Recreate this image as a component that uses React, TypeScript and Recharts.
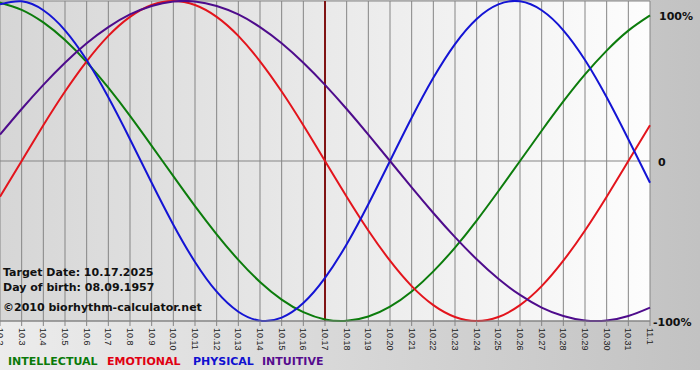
import React from 'react';
import { LineChart, Line, XAxis, YAxis, CartesianGrid, ReferenceLine } from 'recharts';

const dates = ['10.2','10.3','10.4','10.5','10.6','10.7','10.8','10.9','10.10','10.11','10.12','10.13','10.14','10.15','10.16','10.17','10.18','10.19','10.20','10.21','10.22','10.23','10.24','10.25','10.26','10.27','10.28','10.29','10.30','10.31','11.1'];
const intellectual = [99.0,94.5,86.6,75.6,61.8,45.8,28.2,9.5,-9.5,-28.2,-45.8,-61.8,-75.6,-86.6,-94.5,-99.0,-99.9,-97.2,-91.0,-81.5,-69.0,-54.1,-37.2,-18.9,0,18.9,37.2,54.1,69.0,81.5,91.0];
const emotional = [-22.3,0,22.3,43.4,62.3,78.2,90.1,97.5,100,97.5,90.1,78.2,62.3,43.4,22.3,0,-22.3,-43.4,-62.3,-78.2,-90.1,-97.5,-100,-97.5,-90.1,-78.2,-62.3,-43.4,-22.3,0,22.3];
const physical = [97.9,99.8,94.2,81.7,63.1,39.8,13.6,-13.6,-39.8,-63.1,-81.7,-94.2,-99.8,-97.9,-88.8,-73.1,-52.0,-27.0,0,27.0,52.0,73.1,88.8,97.9,99.8,94.2,81.7,63.1,39.8,13.6,-13.6];
const intuitive = [16.5,32.5,47.6,61.4,73.6,83.7,91.6,96.9,99.7,99.7,96.9,91.6,83.7,73.6,61.4,47.6,32.5,16.5,0,-16.5,-32.5,-47.6,-61.4,-73.6,-83.7,-91.6,-96.9,-99.7,-99.7,-96.9,-91.6];
const yTicks = [-100, 0, 100];
const targetDate = '10.17';
const infoLines = ['Target Date: 10.17.2025', 'Day of birth: 08.09.1957', '\u00A92010 biorhythm-calculator.net'];
const legendItems = [
  { name: 'INTELLECTUAL', color: '#0a7a0a' },
  { name: 'EMOTIONAL', color: '#e00012' },
  { name: 'PHYSICAL', color: '#1010d0' },
  { name: 'INTUITIVE', color: '#560c8e' },
];

const data = dates.map((d, i) => ({
  date: d,
  intellectual: intellectual[i],
  emotional: emotional[i],
  physical: physical[i],
  intuitive: intuitive[i],
}));

const FONT = '"DejaVu Sans", Verdana, sans-serif';

const XTick = (props: any) => {
  const { x, y, payload } = props;
  return (
    <g transform={`translate(${x},${y})`}>
      <text transform="rotate(90)" x={0} y={0} dy="0.35em" textAnchor="start"
        fontSize={9} fontFamily='"Liberation Sans", Arial, sans-serif' fill="#222">
        {payload.value}
      </text>
    </g>
  );
};

const YTick = (props: any) => {
  const { x, y, payload } = props;
  const v = payload.value;
  const label = v === 0 ? '0' : `${v}%`;
  const dy = v === 100 ? 7 : 1;
  const dx = v === -100 ? 3 : v === 0 ? 8 : 9;
  return (
    <text x={x + dx} y={y + dy} dominantBaseline="central" textAnchor="start"
      fontSize={11} fontWeight="bold" fontFamily={FONT} fill="#111">
      {label}
    </text>
  );
};

export default function App() {
  return (
    <div style={{ position: 'absolute', left: 0, top: 0, width: 700, height: 380, background: '#ffffff', overflow: 'hidden' }}>
      <div style={{ position: 'absolute', left: 0, top: 0, width: 700, height: 370, background: 'linear-gradient(to right, #ececec, #c2c2c2)' }} />
      <div style={{ position: 'absolute', left: 0, top: 1, width: 650, height: 320, background: 'linear-gradient(to right, #d6d6d6, #fdfdfd)' }} />
      <div style={{ position: 'absolute', left: 0, top: 0 }}>
        <LineChart width={700} height={380} data={data} margin={{ top: 1, right: 0, bottom: 9, left: 0 }}>
          <CartesianGrid stroke="#858585" vertical horizontal />
          <XAxis dataKey="date" interval={0} height={50} tick={<XTick />} tickSize={5}
            axisLine={{ stroke: '#858585' }} tickLine={{ stroke: '#858585' }} />
          <YAxis orientation="right" width={50} domain={[-100, 100]} ticks={yTicks} tick={<YTick />}
            tickSize={0} tickMargin={0} axisLine={false} tickLine={false} />
          <ReferenceLine x={targetDate} stroke="#801414" strokeWidth={2} />
          <Line type="natural" dataKey="intellectual" stroke="#0c7c0c" strokeWidth={2} dot={false} isAnimationActive={false} />
          <Line type="natural" dataKey="emotional" stroke="#e3141c" strokeWidth={2} dot={false} isAnimationActive={false} />
          <Line type="natural" dataKey="physical" stroke="#1414d4" strokeWidth={2} dot={false} isAnimationActive={false} />
          <Line type="natural" dataKey="intuitive" stroke="#4e0c8c" strokeWidth={2} dot={false} isAnimationActive={false} />
        </LineChart>
      </div>
      <svg width={700} height={380} style={{ position: 'absolute', left: 0, top: 0, pointerEvents: 'none' }}>
        {infoLines.map((t, i) => (
          <text key={t} x={3} y={[272, 287, 307][i]} dominantBaseline="central" fontSize={11} fontWeight="bold" fontFamily={FONT} fill="#111">{t}</text>
        ))}
        {legendItems.map((it, i) => (
          <text key={it.name} x={[8, 107, 193, 262][i]} y={361} dominantBaseline="central" fontSize={11} fontWeight="bold" fontFamily={FONT} fill={it.color}>{it.name}</text>
        ))}
      </svg>
    </div>
  );
}
